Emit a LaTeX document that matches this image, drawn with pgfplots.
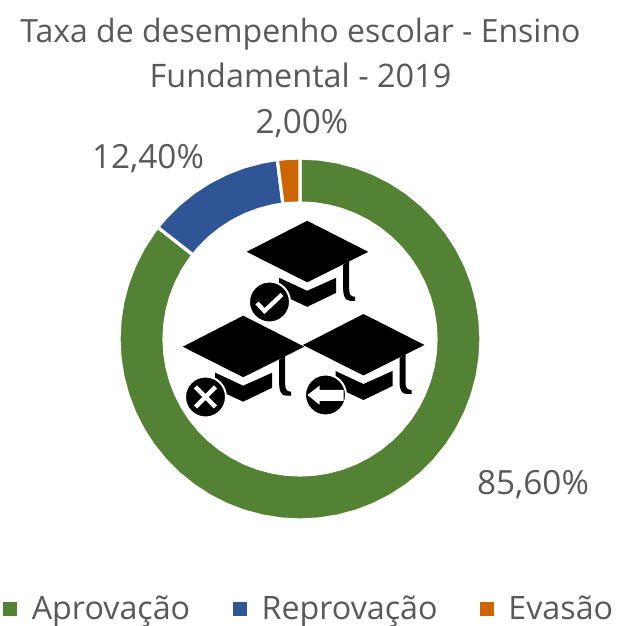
\documentclass[border=0pt]{standalone}
\usepackage{fontspec}
\setmainfont{Open Sans}
\usepackage{pgfplots}
\pgfplotsset{compat=1.18}
\definecolor{cgreen}{HTML}{548235}
\definecolor{cblue}{HTML}{2F5597}
\definecolor{corange}{HTML}{CC6600}
\definecolor{ctext}{HTML}{595959}
\newcommand{\capshape}[2]{%
\begin{scope}[shift={(#1,#2)}]
\fill[black] (-60.5,0)--(0,-31)--(61,0)--(0,30.5)--cycle;
\fill[black] (-28,26)--(0,39)--(29,26)--(29,41)--(0,55)--(-28,42)--cycle;
\fill[black] (36,13)--(42,9)--(42,38) .. controls (42,43) and (44,45) .. (48,45)--(48,49)--(43,49) .. controls (38,49) and (36,44) .. (36,38)--cycle;
\end{scope}}
\begin{document}
\begin{tikzpicture}
\begin{axis}[
  scale only axis, width=463.5pt, height=469.5pt,
  xmin=-300, xmax=318, ymin=-287, ymax=339,
  hide axis, clip=false,
  legend style={draw=none, fill=none, font=\fontsize{24.2}{28}\selectfont\color{ctext},
    at={(axis cs:9.5,-270)}, anchor=center, legend columns=3, inner sep=0pt,
    /tikz/column 1/.style={column sep=9pt},
    /tikz/column 3/.style={column sep=9pt},
    /tikz/column 5/.style={column sep=9pt},
    /tikz/column 2/.style={column sep=30pt},
    /tikz/column 4/.style={column sep=29.5pt}},
  legend image code/.code={\fill[#1,draw=none] (0pt,-5.2pt) rectangle (10.5pt,5.3pt);},
]
\addplot[fill=cgreen, draw=white, line width=2.4pt, line join=round, data cs=polar] coordinates {
(90,181)(84,181)(78,181)(72,181)(66,181)(60,181)(54,181)(48,181)(42,181)(36,181)(30,181)(24,181)(18,181)(12,181)(6,181)(0,181)
(-6,181)(-12,181)(-18,181)(-24,181)(-30,181)(-36,181)(-42,181)(-48,181)(-54,181)(-60,181)(-66,181)(-72,181)(-78,181)(-84,181)(-90,181)
(-96,181)(-102,181)(-108,181)(-114,181)(-120,181)(-126,181)(-132,181)(-138,181)(-144,181)(-150,181)(-156,181)(-162,181)(-168,181)(-174,181)(-180,181)
(-186,181)(-192,181)(-198,181)(-204,181)(-210,181)(-216,181)(-218.16,181)
(-218.16,136)(-216,136)(-210,136)(-204,136)(-198,136)(-192,136)(-186,136)
(-180,136)(-174,136)(-168,136)(-162,136)(-156,136)(-150,136)(-144,136)(-138,136)(-132,136)(-126,136)(-120,136)(-114,136)(-108,136)(-102,136)(-96,136)
(-90,136)(-84,136)(-78,136)(-72,136)(-66,136)(-60,136)(-54,136)(-48,136)(-42,136)(-36,136)(-30,136)(-24,136)(-18,136)(-12,136)(-6,136)
(0,136)(6,136)(12,136)(18,136)(24,136)(30,136)(36,136)(42,136)(48,136)(54,136)(60,136)(66,136)(72,136)(78,136)(84,136)(90,136)(90,181)};
\addlegendentry{Aprovação}
\addplot[fill=cblue, draw=white, line width=2.4pt, line join=round, data cs=polar] coordinates {
(-218.16,181)(-222,181)(-228,181)(-234,181)(-240,181)(-246,181)(-252,181)(-258,181)(-262.8,181)
(-262.8,136)(-258,136)(-252,136)(-246,136)(-240,136)(-234,136)(-228,136)(-222,136)(-218.16,136)(-218.16,181)};
\addlegendentry{Reprovação}
\addplot[fill=corange, draw=white, line width=2.4pt, line join=round, data cs=polar] coordinates {
(-262.8,181)(-266,181)(-270,181)(-270,136)(-266,136)(-262.8,136)(-262.8,181)};
\addlegendentry{Evasão}
\end{axis}
\begin{scope}[x=0.75pt,y=-0.75pt,yshift=469.5pt]
\node[text=ctext,font=\fontsize{24}{28}\selectfont] at (300.5,34) {Taxa de desempenho escolar - Ensino};
\node[text=ctext,font=\fontsize{24.3}{28}\selectfont] at (300.5,75) {Fundamental - 2019};
\node[text=ctext,font=\fontsize{25}{28}\selectfont] at (302,124) {2,00\%};
\node[text=ctext,font=\fontsize{25}{28}\selectfont] at (148,159) {12,40\%};
\node[text=ctext,font=\fontsize{25}{28}\selectfont] at (533,485) {85,60\%};
\capshape{307.2}{251.8}
\capshape{243.2}{346.7}
\capshape{363.5}{345}
% badges
\fill[black,draw=white,line width=1.5pt] (269.5,302) circle (20.5);
\draw[white,line width=3.2pt,miter limit=10] (257,303)--(264.5,311)--(282,294.5);
\fill[black,draw=white,line width=1.5pt] (205.5,397) circle (20.5);
\draw[white,line width=3.2pt] (195.5,387)--(215.5,407) (215.5,387)--(195.5,407);
\fill[black,draw=white,line width=1.5pt] (325.5,395) circle (20.5);
\fill[white] (307.5,395)--(319.5,385.7)--(319.5,390)--(343.5,390)--(343.5,401)--(319.5,401)--(319.5,404.7)--cycle;
\end{scope}
\pgfresetboundingbox
\path[use as bounding box] (0,0) rectangle (463.5pt,469.5pt);
\end{tikzpicture}
\end{document}
